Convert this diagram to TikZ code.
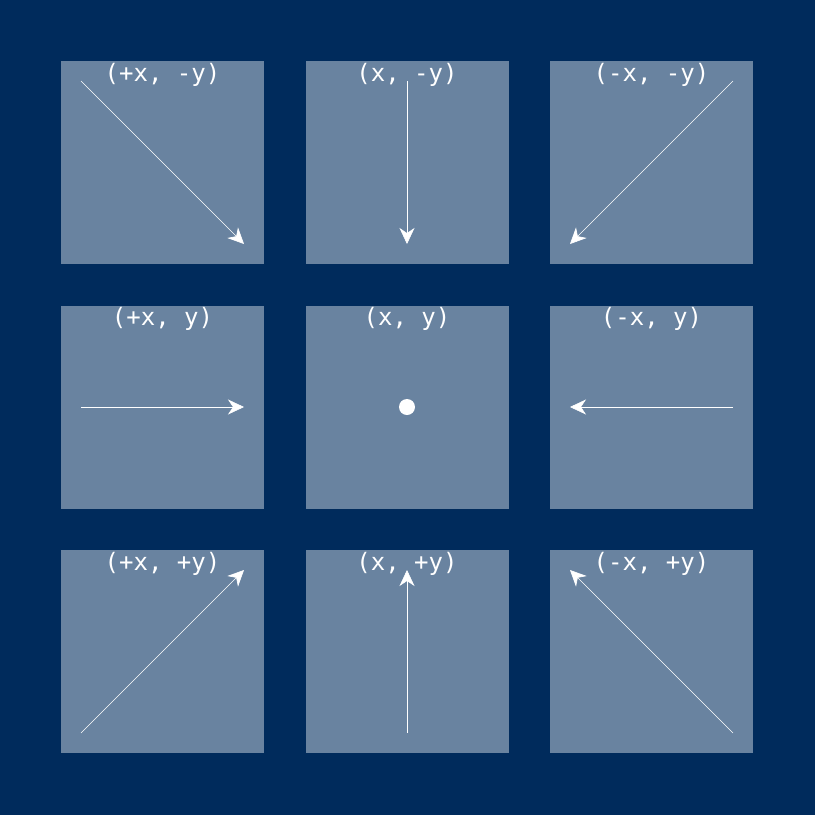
\documentclass[tikz,border=0pt]{standalone}
\usepackage{fontspec}
\setmonofont{DejaVu Sans Mono}
\usetikzlibrary{arrows.meta}
\definecolor{navy}{HTML}{002B5C}
\definecolor{slate}{HTML}{6983A0}

\begin{document}
\begin{tikzpicture}[x=1pt, y=-1pt, >={Stealth[length=16pt,width=15pt,inset=5pt]}]
    \tikzset{
        cell/.style={fill=slate, draw=none},
        lbl/.style={text=white, font=\ttfamily\fontsize{24}{28}\selectfont, anchor=base, inner sep=0pt},
        move/.style={->, white, line width=0.6pt}
    }
    % Background
    \fill[navy] (0,0) rectangle (815,815);
    \useasboundingbox (0,0) rectangle (815,815);

    % Cells: column/row/label/direction
    \foreach \c/\r/\lab/\dx/\dy in {
        0/0/{(+x, -y)}/1/1, 1/0/{(x, -y)}/0/1, 2/0/{(-x, -y)}/-1/1,
        0/1/{(+x, y)}/1/0, 1/1/{(x, y)}/0/0, 2/1/{(-x, y)}/-1/0,
        0/2/{(+x, +y)}/1/-1, 1/2/{(x, +y)}/0/-1, 2/2/{(-x, +y)}/-1/-1} {
        \pgfmathsetmacro\cx{162.5+244.5*\c}
        \pgfmathsetmacro\cy{162.5+244.5*\r}
        \fill[cell] (\cx-101.5,\cy-101.5) rectangle (\cx+101.5,\cy+101.5);
        \node[lbl] (lab-\c-\r) at (\cx,\cy-81.5) {\lab};
        \coordinate (from-\c-\r) at (\cx-81.5*\dx,\cy-81.5*\dy);
        \coordinate (to-\c-\r) at (\cx+81.5*\dx,\cy+81.5*\dy);
    }

    % Moves
    \foreach \c/\r in {0/0,1/0,2/0,0/1,2/1,0/2,1/2,2/2}
        \draw[move] (from-\c-\r) -- (to-\c-\r);

    % No move
    \fill[white] (from-1-1) circle (8);
\end{tikzpicture}
\end{document}
